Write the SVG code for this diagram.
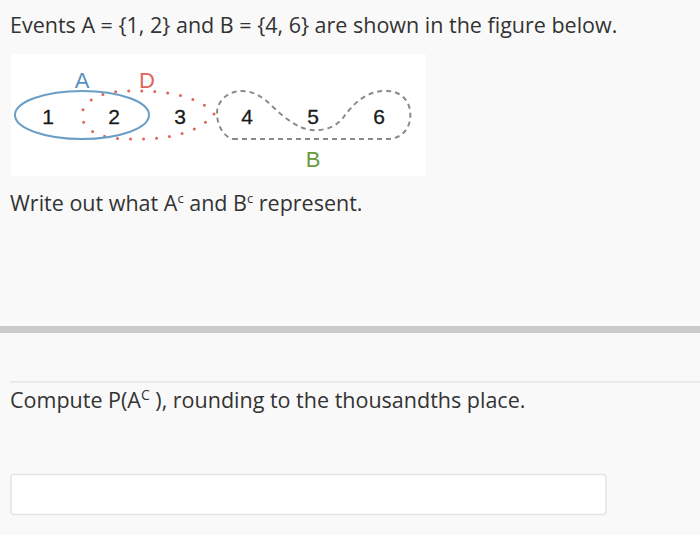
<svg xmlns="http://www.w3.org/2000/svg" width="700" height="535" viewBox="0 0 700 535">
<style>
.q{font-family:"Open Sans","Liberation Sans",sans-serif;font-size:21.5px;fill:#333}
.num{font-family:"Liberation Sans",Arial,sans-serif;font-size:21px;fill:#1a1a1a;text-anchor:middle;stroke:#1a1a1a;stroke-width:0.3}
.lbl{font-family:"Liberation Sans",Arial,sans-serif;font-size:22px;text-anchor:middle}
</style>
<rect width="700" height="535" fill="#f9f9f9"/>
<text class="q" x="10" y="33">Events A = {1, 2} and B = {4, 6} are shown in the figure below.</text>
<rect x="11" y="54" width="415" height="122" fill="#ffffff"/>
<g id="connectors">
<path id="setD" d="M214,114 C198,94 160,90 125,91 C95,92 82,104 82,115 C82,128 96,139 130,139 C170,140 200,132 214,114 Z" fill="none" stroke="#e0645a" stroke-width="3" stroke-linecap="round" stroke-dasharray="0 13"/>
<path id="setB" d="M233,139 L390,139 C405,137 412,125 410,110 C407,95 395,90 383,91 C365,92 352,105 343,118 C335,128 322,131 312,130 C298,129 285,118 273,107 C262,96 253,91 242,91 C228,91 217,101 217,113 C217,126 224,137 233,139 Z" fill="none" stroke="#8a8a8a" stroke-width="2" stroke-dasharray="5 4"/>
<ellipse id="setA" cx="82" cy="115" rx="67" ry="24" fill="none" stroke="#6a9ec4" stroke-width="2"/>
</g>
<g id="labelA"><text class="lbl" x="82" y="88" fill="#5b8fc0">A</text></g>
<g id="labelD"><text class="lbl" x="147" y="88" fill="#e0645a">D</text></g>
<g id="labelB"><text class="lbl" x="313" y="167" fill="#6a9a3a">B</text></g>
<g id="n1"><text class="num" x="48" y="124">1</text></g>
<g id="n2"><text class="num" x="114" y="124">2</text></g>
<g id="n3"><text class="num" x="180" y="124">3</text></g>
<g id="n4"><text class="num" x="247" y="124">4</text></g>
<g id="n5"><text class="num" x="313" y="124">5</text></g>
<g id="n6"><text class="num" x="379" y="124">6</text></g>
<text class="q" x="10" y="211">Write out what A<tspan font-size="13" dy="-8">c</tspan><tspan dy="8"> and B</tspan><tspan font-size="13" dy="-8">c</tspan><tspan dy="8"> represent.</tspan></text>
<rect x="0" y="326" width="700" height="7" fill="#cbcbcb"/>
<rect x="10" y="381" width="690" height="1.5" fill="#e6e6e6"/>
<text class="q" x="10" y="408">Compute P(A<tspan font-size="14" dy="-8">C</tspan><tspan dy="8"> ), rounding to the thousandths place.</tspan></text>
<rect x="11" y="474.5" width="595" height="40" rx="3" fill="#ffffff" stroke="#e4e4e4" stroke-width="1.5"/>
</svg>
